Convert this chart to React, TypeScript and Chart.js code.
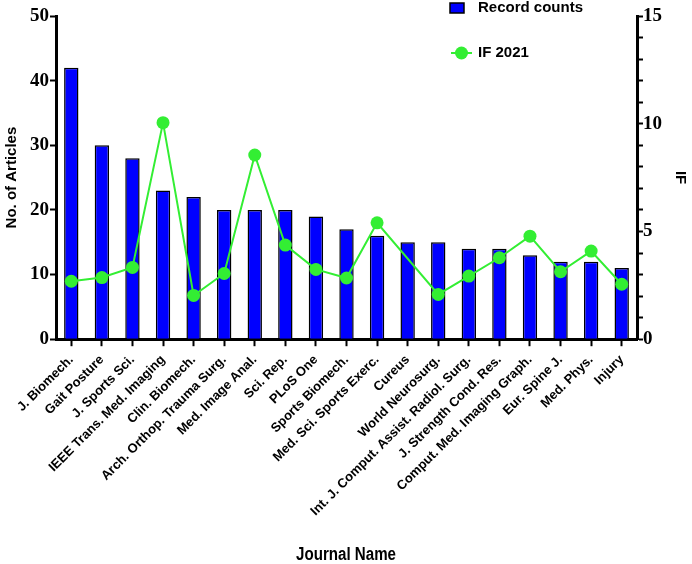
import { useEffect, useRef } from "react"
import { Chart, registerables } from "chart.js"

Chart.register(...registerables)

const journals = [
  "J. Biomech.",
  "Gait Posture",
  "J. Sports Sci.",
  "IEEE Trans. Med. Imaging",
  "Clin. Biomech.",
  "Arch. Orthop. Trauma Surg.",
  "Med. Image Anal.",
  "Sci. Rep.",
  "PLoS One",
  "Sports Biomech.",
  "Med. Sci. Sports Exerc.",
  "Cureus",
  "World Neurosurg.",
  "Int. J. Comput. Assist. Radiol. Surg.",
  "J. Strength Cond. Res.",
  "Comput. Med. Imaging Graph.",
  "Eur. Spine J.",
  "Med. Phys.",
  "Injury",
]

const recordCounts = [42, 30, 28, 23, 22, 20, 20, 20, 19, 17, 16, 15, 15, 14, 14, 13, 12, 12, 11]

// Cureus has no IF, the line just spans over it
const impactFactor2021 = [2.69, 2.86, 3.33, 10.05, 2.03, 3.05, 8.55, 4.37, 3.24, 2.84, 5.4, null, 2.08, 2.93, 3.78, 4.78, 3.13, 4.09, 2.55]

const BLUE = "#0000ff"
const GREEN = "#33ee33"
const SANS = "'Liberation Sans', Arial, sans-serif"
const SERIF = "'Liberation Serif', 'Times New Roman', serif"

// legend in two rows + the x-axis title, drawn straight on the canvas
const extrasPlugin = {
  id: "extras",
  afterDraw(chart: Chart) {
    const ctx = chart.ctx
    ctx.save()
    // Record counts
    ctx.fillStyle = BLUE
    ctx.strokeStyle = "#000"
    ctx.lineWidth = 1.5
    ctx.fillRect(450, 3, 14, 10)
    ctx.strokeRect(450, 3, 14, 10)
    ctx.fillStyle = "#000"
    ctx.font = `bold 15px ${SANS}`
    ctx.textBaseline = "middle"
    ctx.textAlign = "left"
    ctx.fillText("Record counts", 478, 8)
    // IF 2021
    ctx.strokeStyle = GREEN
    ctx.lineWidth = 2
    ctx.beginPath()
    ctx.moveTo(451, 53)
    ctx.lineTo(472, 53)
    ctx.stroke()
    ctx.fillStyle = GREEN
    ctx.beginPath()
    ctx.arc(461.5, 53, 6.5, 0, Math.PI * 2)
    ctx.fill()
    ctx.fillStyle = "#000"
    ctx.fillText("IF 2021", 478, 53)
    // x title, squeezed a bit to look like a narrow face
    ctx.textAlign = "center"
    ctx.font = `bold 18px ${SANS}`
    ctx.translate(346, 555)
    ctx.scale(0.84, 1)
    ctx.fillText("Journal Name", 0, 0)
    ctx.restore()
  },
}

export default function App() {
  const chartRef = useRef<HTMLCanvasElement>(null)
  const chartInstance = useRef<Chart | null>(null)

  useEffect(() => {
    if (!chartRef.current) return
    if (chartInstance.current) chartInstance.current.destroy()

    const ctx = chartRef.current.getContext("2d")
    if (!ctx) return

    chartInstance.current = new Chart(ctx, {
      type: "bar",
      data: {
        labels: journals,
        datasets: [
          {
            type: "line",
            label: "IF 2021",
            data: impactFactor2021,
            yAxisID: "y1",
            borderColor: GREEN,
            backgroundColor: GREEN,
            borderWidth: 2,
            pointRadius: 6.5,
            pointBorderWidth: 0,
            pointBackgroundColor: GREEN,
            spanGaps: true,
            tension: 0,
            order: 0,
          },
          {
            type: "bar",
            label: "Record counts",
            data: recordCounts,
            yAxisID: "y",
            backgroundColor: BLUE,
            borderColor: "#000",
            borderWidth: 1.5,
            barPercentage: 0.47,
            categoryPercentage: 1,
            order: 1,
          },
        ],
      },
      options: {
        responsive: true,
        maintainAspectRatio: false,
        animation: false,
        layout: {
          padding: { top: 16, left: 3, right: 0, bottom: 39 },
        },
        plugins: {
          legend: { display: false },
          tooltip: { enabled: false },
        },
        scales: {
          x: {
            offset: true,
            grid: {
              offset: false,
              drawOnChartArea: false,
              drawTicks: true,
              tickLength: 7,
              tickWidth: 2,
              tickColor: "#000",
            },
            border: { display: true, width: 3, color: "#000" },
            ticks: {
              autoSkip: false,
              maxRotation: 45,
              minRotation: 45,
              color: "#000",
              padding: 6,
              font: { family: SANS, size: 13, weight: "bold" },
            },
          },
          y: {
            position: "left",
            min: 0,
            max: 50,
            ticks: {
              stepSize: 10,
              color: "#000",
              padding: 1,
              font: { family: SERIF, size: 19, weight: "bold" },
            },
            grid: {
              drawOnChartArea: false,
              drawTicks: true,
              tickLength: 6,
              tickWidth: 2,
              tickColor: "#000",
            },
            border: { display: true, width: 3, color: "#000" },
            title: {
              display: true,
              text: "No. of Articles",
              color: "#000",
              padding: { top: 0, bottom: 8 },
              font: { family: SANS, size: 15, weight: "bold" },
            },
          },
          y1: {
            position: "right",
            min: 0,
            max: 15,
            ticks: {
              stepSize: 1,
              autoSkip: false,
              color: "#000",
              padding: 0,
              font: { family: SERIF, size: 19, weight: "bold" },
              callback: (v) => (Number(v) % 5 === 0 ? String(v) : ""),
            },
            grid: {
              drawOnChartArea: false,
              drawTicks: true,
              tickLength: 6,
              tickWidth: 2,
              tickColor: "#000",
            },
            border: { display: true, width: 3, color: "#000" },
            title: {
              display: true,
              text: "IF",
              color: "#000",
              padding: { top: 3, bottom: 9 },
              font: { family: SANS, size: 15, weight: "bold" },
            },
          },
        },
      },
      plugins: [extrasPlugin],
    })

    return () => {
      if (chartInstance.current) {
        chartInstance.current.destroy()
        chartInstance.current = null
      }
    }
  }, [])

  return (
    <div style={{ position: "absolute", left: 0, top: 0, width: 692, height: 564, background: "#fff" }}>
      <canvas ref={chartRef} />
    </div>
  )
}
